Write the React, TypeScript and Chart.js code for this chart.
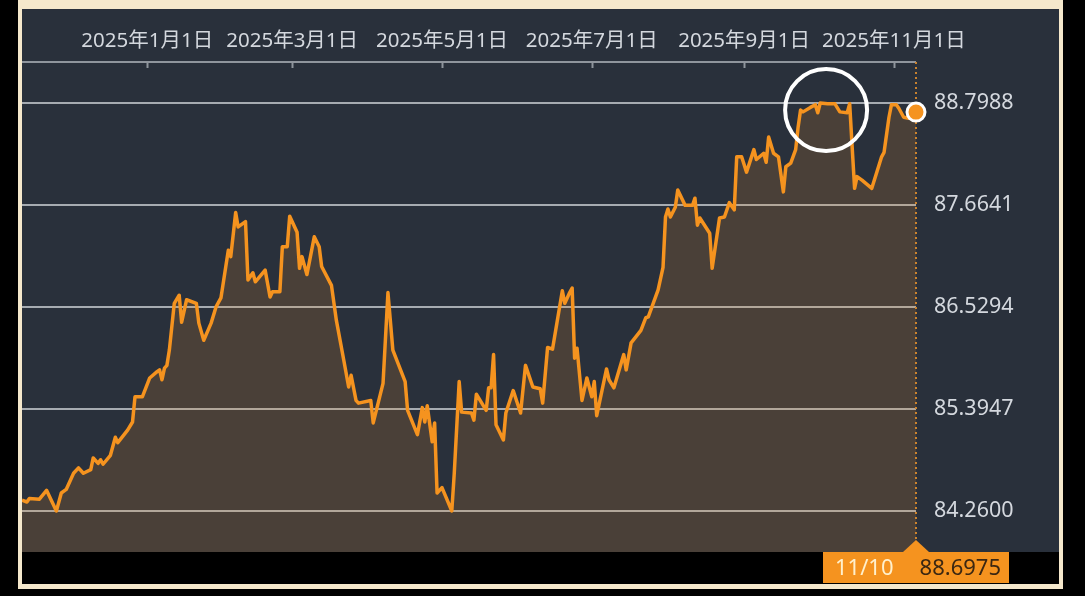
import React, { useEffect, useRef } from "react";
import { Chart, registerables } from "chart.js";

Chart.register(...registerables);

// days since 2025-01-01
const dayOffsets = [
  -51, -49, -48, -44, -41, -37, -35, -33, -30, -28,
  -26, -23, -22, -20, -19, -18, -15, -13, -12, -8,
  -6, -5, -2, 1, 4, 5, 6, 7, 8, 9,
  11, 13, 14, 16, 20, 21, 23, 26, 28, 30,
  33, 34, 36, 37, 40, 41, 43, 44, 48, 50,
  51, 54, 55, 57, 58, 61, 62, 63, 65, 68,
  70, 71, 75, 77, 80, 82, 83, 85, 86, 91,
  92, 96, 98, 100, 105, 106, 110, 112, 113, 114,
  116, 117, 118, 120, 124, 125, 127, 128, 132, 133,
  134, 138, 139, 140, 141, 142, 145, 146, 149, 152,
  154, 157, 160, 161, 163, 165, 169, 170, 172, 173,
  174, 175, 177, 179, 181, 182, 183, 187, 188, 190,
  193, 194, 195, 197, 201, 203, 204, 206, 208, 210,
  211, 212, 213, 215, 216, 219, 222, 223, 224, 225,
  229, 230, 233, 235, 237, 239, 240, 242, 244, 247,
  248, 251, 252, 253, 255, 257, 259, 260, 262, 264,
  265, 266, 267, 270, 272, 273, 274, 277, 280, 282,
  285, 286, 287, 288, 289, 291, 295, 299, 300, 302,
  303, 305, 306, 308, 310, 313,
];

const rates = [
  84.38, 84.36, 84.40, 84.39, 84.49, 84.26, 84.46, 84.50, 84.68, 84.74,
  84.68, 84.72, 84.85, 84.79, 84.83, 84.78, 84.88, 85.08, 85.02, 85.16,
  85.25, 85.53, 85.53, 85.74, 85.81, 85.83, 85.72, 85.85, 85.88, 86.05,
  86.57, 86.66, 86.36, 86.61, 86.57, 86.35, 86.16, 86.35, 86.53, 86.63,
  87.16, 87.09, 87.58, 87.42, 87.48, 86.83, 86.91, 86.81, 86.94, 86.64,
  86.70, 86.70, 87.20, 87.20, 87.54, 87.36, 86.96, 87.09, 86.89, 87.31,
  87.20, 86.98, 86.77, 86.38, 85.94, 85.64, 85.77, 85.49, 85.46, 85.49,
  85.24, 85.68, 86.69, 86.05, 85.70, 85.38, 85.11, 85.41, 85.25, 85.43,
  85.03, 85.24, 84.46, 84.52, 84.26, 84.68, 85.70, 85.36, 85.35, 85.27,
  85.56, 85.38, 85.63, 85.63, 86.00, 85.22, 85.05, 85.35, 85.60, 85.35,
  85.88, 85.64, 85.62, 85.46, 86.08, 86.06, 86.71, 86.57, 86.69, 86.74,
  85.96, 86.07, 85.49, 85.74, 85.53, 85.70, 85.32, 85.84, 85.72, 85.63,
  85.91, 86.00, 85.83, 86.13, 86.27, 86.41, 86.42, 86.57, 86.72, 86.97,
  87.53, 87.62, 87.53, 87.64, 87.83, 87.66, 87.66, 87.74, 87.44, 87.52,
  87.35, 86.96, 87.52, 87.53, 87.69, 87.61, 88.20, 88.20, 88.03, 88.28,
  88.17, 88.24, 88.14, 88.42, 88.24, 88.20, 87.81, 88.09, 88.13, 88.28,
  88.53, 88.72, 88.70, 88.75, 88.78, 88.69, 88.7988, 88.79, 88.79, 88.70,
  88.69, 88.79, 88.31, 87.85, 87.98, 87.94, 87.85, 88.20, 88.25, 88.64,
  88.78, 88.78, 88.74, 88.64, 88.63, 88.6975,
];

const xTickDays = [0, 59, 120, 181, 243, 304];
const xTickLabels = [
  "2025年1月1日",
  "2025年3月1日",
  "2025年5月1日",
  "2025年7月1日",
  "2025年9月1日",
  "2025年11月1日",
];
const yTickValues = [84.26, 85.3947, 86.5294, 87.6641, 88.7988];
const xMin = -51;
const xMax = 313;
const yMin = 83.8039;
const yMax = 89.2549;
const highlightDay = 276.4;
const highlightValue = 88.72;
const lastDateLabel = "11/10";

const ORANGE = "#f5931f";
const GRID = "#a6abb1";
const LABEL = "#d4d8de";
const FONT = '"Noto Sans", "Noto Sans CJK JP", sans-serif';

export default function App() {
  const ref = useRef<HTMLCanvasElement | null>(null);

  useEffect(() => {
    const canvas = ref.current;
    if (!canvas) return;
    const n = dayOffsets.length;
    const points = dayOffsets.map((d, i) => ({ x: d, y: rates[i] }));

    const overlay = {
      id: "overlay",
      beforeDatasetsDraw(chart: any) {
        const { ctx, chartArea: a, scales } = chart;
        const x = scales.x;
        const lx = x.getPixelForValue(dayOffsets[n - 1]);
        ctx.save();
        ctx.strokeStyle = "#8f959d";
        ctx.lineWidth = 2;
        ctx.beginPath();
        ctx.moveTo(a.left, a.top);
        ctx.lineTo(a.right, a.top);
        ctx.stroke();
        for (const d of xTickDays) {
          const px = Math.round(x.getPixelForValue(d)) + 0.5;
          ctx.beginPath();
          ctx.moveTo(px, a.top);
          ctx.lineTo(px, a.top + 6);
          ctx.stroke();
        }
        ctx.strokeStyle = "#c9822f";
        ctx.lineWidth = 2;
        ctx.setLineDash([2, 3]);
        ctx.beginPath();
        ctx.moveTo(lx, a.top);
        ctx.lineTo(lx, a.bottom);
        ctx.stroke();
        ctx.restore();
      },
      afterDraw(chart: any) {
        const { ctx, chartArea: a, scales } = chart;
        const x = scales.x;
        const y = scales.y;
        const lx = x.getPixelForValue(dayOffsets[n - 1]);
        ctx.save();
        ctx.strokeStyle = "#ffffff";
        ctx.lineWidth = 4;
        ctx.beginPath();
        ctx.arc(x.getPixelForValue(highlightDay), y.getPixelForValue(highlightValue), 41, 0, Math.PI * 2);
        ctx.stroke();
        const bw = 186;
        const bh = 31;
        const bl = lx - bw / 2;
        ctx.fillStyle = ORANGE;
        ctx.beginPath();
        ctx.moveTo(lx, a.bottom - 12);
        ctx.lineTo(lx + 13, a.bottom);
        ctx.lineTo(lx - 13, a.bottom);
        ctx.closePath();
        ctx.fill();
        ctx.fillRect(bl, a.bottom, bw, bh);
        ctx.font = `22px ${FONT}`;
        ctx.textBaseline = "middle";
        ctx.textAlign = "left";
        ctx.fillStyle = "#fff0cc";
        ctx.fillText(lastDateLabel, bl + 12, a.bottom + bh / 2 + 1);
        ctx.textAlign = "right";
        ctx.fillStyle = "#3b2712";
        ctx.fillText(rates[n - 1].toFixed(4), bl + bw - 8, a.bottom + bh / 2 + 1);
        ctx.restore();
      },
    };

    const chart = new Chart(canvas, {
      type: "line",
      data: {
        datasets: [
          {
            data: points,
            borderColor: ORANGE,
            borderWidth: 3.5,
            borderJoinStyle: "round",
            backgroundColor: "rgba(240,146,42,0.17)",
            fill: "start",
            tension: 0,
            clip: false as any,
            pointRadius: (c: any) => (c.dataIndex === n - 1 ? 9 : 0),
            pointHoverRadius: (c: any) => (c.dataIndex === n - 1 ? 9 : 0),
            pointBackgroundColor: ORANGE,
            pointBorderColor: "#ffffff",
            pointBorderWidth: 3,
          },
        ],
      },
      options: {
        animation: false,
        responsive: false,
        maintainAspectRatio: false,
        events: [],
        layout: { autoPadding: false, padding: { left: 0, right: 0, top: 0, bottom: 32 } },
        plugins: { legend: { display: false }, tooltip: { enabled: false } },
        scales: {
          x: {
            type: "linear",
            position: "top",
            min: xMin,
            max: xMax,
            afterBuildTicks: (s: any) => {
              s.ticks = xTickDays.map((v) => ({ value: v }));
            },
            afterFit: (s: any) => {
              s.height = 53;
              s.paddingLeft = 0;
              s.paddingRight = 0;
            },
            grid: { display: false },
            border: { display: false },
            ticks: {
              autoSkip: false,
              maxRotation: 0,
              color: LABEL,
              font: { family: FONT, size: 20.5 },
              padding: 1,
              callback: (v: any) => {
                const i = xTickDays.indexOf(Number(v));
                return i >= 0 ? xTickLabels[i] : "";
              },
            },
          },
          y: {
            position: "right",
            min: yMin,
            max: yMax,
            afterBuildTicks: (s: any) => {
              s.ticks = yTickValues.map((v) => ({ value: v }));
            },
            afterFit: (s: any) => {
              s.width = 143;
            },
            grid: { color: GRID, lineWidth: 2, drawTicks: false },
            border: { display: false },
            ticks: {
              padding: 18,
              color: LABEL,
              font: { family: FONT, size: 21.5 },
              callback: (v: any) => Number(v).toFixed(4),
            },
          },
        },
      },
      plugins: [overlay],
    });
    return () => chart.destroy();
  }, []);

  return (
    <div
      style={{
        position: "fixed",
        left: 0,
        top: 0,
        width: 1085,
        height: 596,
        background: "#000",
        overflow: "hidden",
      }}
    >
      <div
        style={{
          position: "absolute",
          left: 18,
          top: 0,
          width: 1045,
          height: 589,
          background: "#f5e8cc",
        }}
      />
      <div
        style={{
          position: "absolute",
          left: 22,
          top: 9,
          width: 1037,
          height: 543,
          background: "#29303b",
        }}
      />
      <div
        style={{
          position: "absolute",
          left: 22,
          top: 552,
          width: 1037,
          height: 32,
          background: "#000",
        }}
      />
      <canvas
        ref={ref}
        width={1037}
        height={575}
        style={{ position: "absolute", left: 22, top: 9, width: 1037, height: 575 }}
      />
    </div>
  );
}
